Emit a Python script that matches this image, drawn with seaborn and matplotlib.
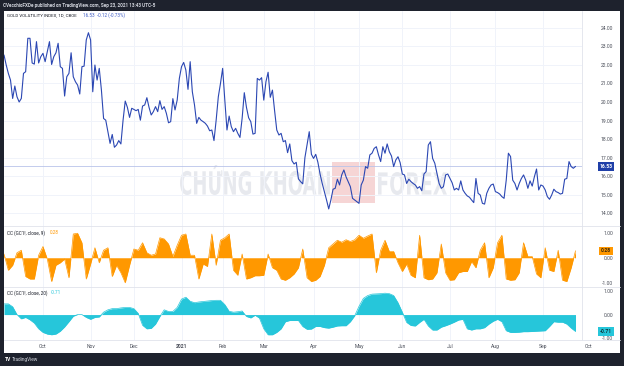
import numpy as np
import pandas as pd
import matplotlib
matplotlib.use("Agg")
import matplotlib.pyplot as plt
import seaborn as sns
from matplotlib.patches import Rectangle, PathPatch
from matplotlib.lines import Line2D
from matplotlib.textpath import TextPath
from matplotlib.font_manager import FontProperties
from matplotlib.transforms import Affine2D

# ---- data ----
gvz_close = [
    22.53, 22.00, 21.54, 21.18, 20.19, 20.86, 20.28, 20.00, 20.19, 21.54, 21.63,
    23.43, 23.43, 22.10, 22.04, 23.25, 22.10, 22.44, 22.62, 22.17, 22.71,
    23.25, 22.02, 22.44, 22.65, 23.16, 21.90, 21.81, 20.32, 21.36, 21.54,
    22.65, 21.36, 21.09, 20.91, 20.43, 21.90, 21.93, 23.34, 23.73, 23.34,
    20.55, 21.99, 21.18, 21.81, 20.64, 19.11, 19.02, 18.40, 17.77, 18.25, 17.56,
    17.68, 17.92, 17.74, 19.02, 20.05, 19.71, 19.17, 19.66, 19.60, 19.53,
    19.60, 19.02, 19.78, 19.84, 20.23, 19.71, 19.30, 19.48, 19.75, 19.48,
    20.07, 19.60, 19.75, 19.39, 18.88, 18.94, 20.18, 19.57, 20.10, 21.27,
    21.90, 22.13, 21.72, 20.68, 22.17, 20.55, 19.84, 18.85, 19.17, 19.02,
    18.94, 18.85, 18.70, 18.45, 18.49, 17.92, 19.02, 20.28, 21.00, 21.81, 20.10,
    18.49, 19.24, 18.67, 18.40, 18.58, 18.31, 18.09, 19.12, 20.50, 19.71,
    19.15, 18.94, 18.27, 18.31, 21.27, 21.18, 21.31, 20.10, 21.09, 21.60,
    20.25, 20.64, 19.53, 18.49, 18.22, 18.31, 17.86, 17.92, 17.27, 17.74,
    16.84, 16.66, 16.75, 15.86, 15.71, 15.59, 17.00, 17.70, 18.40, 17.18, 16.96,
    17.18, 16.75, 16.12,
    15.61, 15.17, 14.72, 14.24, 14.72, 15.30, 15.35, 15.84, 15.53, 16.07,
    16.34, 15.97, 15.71, 15.44, 14.81, 14.72, 14.63, 14.54, 15.53, 15.79,
    16.52, 16.43, 17.15, 17.24, 17.50, 17.59, 17.15, 16.79, 17.59, 17.24,
    17.74, 17.32, 17.09, 16.52, 16.88, 17.05, 16.73, 16.12, 16.07, 15.61,
    15.84, 15.71, 15.61, 15.53, 15.35, 15.44, 15.22, 16.12, 16.25, 17.68,
    17.86, 16.96, 16.70, 16.16, 15.61, 15.35, 15.44, 16.07, 16.12, 15.88,
    15.65, 15.26, 15.35, 15.26, 15.75, 15.26, 15.08, 14.94, 14.87, 14.72,
    14.58, 15.88, 15.08, 14.99, 14.54, 14.50, 15.08, 15.35, 15.53, 15.58,
    15.17, 15.12, 15.04, 14.90, 14.81, 15.79, 17.24, 17.06, 15.79, 15.61,
    15.26, 15.61, 15.88, 16.07, 15.79, 15.35, 15.75, 15.47, 15.97, 16.39,
    15.26, 15.53, 15.47, 15.26, 14.90, 14.76, 14.99, 15.30, 15.17, 15.12,
    15.04, 15.08, 15.84, 15.88, 16.79, 16.52, 16.43, 16.53,
]

# correlation coefficient vs gold futures, sampled every 2nd bar
cc9 = [
    0.15, -0.5, -0.3, 0.2, 0.3, -0.75, -0.85, -0.85, 0.1, 0.45,
    -0.05, -0.95, -0.3, -0.2, -0.05, -0.8, 0.95, 0.98, 0.6, -0.85,
    -0.25, 0.4, -0.2, 0.3, 0.4, -0.75, -0.3, -0.6, -1.0, -0.3,
    0.35, 0.3, 0.6, 0.2, 0.1, 0.15, 0.8, 0.75, 0.55, 0.05,
    0.5, 0.9, 0.95, 0.1, 0.1, -0.85, -0.25, -0.35, 0.95, -0.3,
    0.7, 0.8, 0.95, -0.5, -0.7, 0.15, -0.85, -0.8, -0.72, -0.72,
    -0.7, 0.15, -0.4, -0.5, -0.85, -0.9, -0.8, -0.65, -0.4, 0.35,
    -0.8, -0.95, -0.9, -0.75, -0.3, 0.4, 0.55, 0.7, 0.62, 0.72,
    0.65, 0.72, 0.9, 0.78, 0.87, 0.95, -0.6, 0.3, 0.7, 0.25,
    0.25, -0.2, -0.55, -0.25, -0.7, -0.8, 0.9, -0.8, -0.88, -0.85,
    -0.6, 0.55, -0.6, -0.9, -0.88, -0.6, -0.55, -0.55, -0.15, -0.4,
    0.3, 0.6, -0.8, -0.4, 0.6, 0.9, -0.85, -0.9, -0.88, -0.6,
    0.6, 0.05, 0.05, -0.65, -0.8, 0.4, -0.5, -0.55, 0.3, -0.9,
    -0.95, -0.4, 0.28,
]
cc20 = [
    0.45, 0.45, 0.33, 0.0, -0.18, -0.12, -0.22, -0.36, -0.6, -0.75,
    -0.82, -0.85, -0.82, -0.7, -0.52, -0.3, -0.07, 0.0, 0.0, -0.12,
    -0.2, -0.12, -0.1, 0.1, 0.2, 0.25, 0.25, 0.28, 0.3, 0.3,
    0.25, 0.05, -0.45, -0.6, -0.58, -0.4, -0.08, 0.2, 0.13, 0.13,
    0.3, 0.65, 0.73, 0.56, 0.5, 0.53, 0.55, 0.57, 0.59, 0.6,
    0.6, 0.42, 0.14, 0.1, 0.12, 0.15, -0.08, -0.14, -0.03, -0.15,
    -0.6, -0.85, -0.85, -0.75, -0.6, -0.3, -0.25, -0.25, -0.25, -0.5,
    -0.62, -0.61, -0.5, -0.5, -0.55, -0.57, -0.53, -0.48, -0.47, -0.47,
    -0.3, -0.05, 0.35, 0.68, 0.8, 0.86, 0.87, 0.88, 0.9, 0.88,
    0.8, 0.5, 0.1, -0.33, -0.46, -0.48, -0.33, -0.2, -0.48, -0.65,
    -0.65, -0.53, -0.47, -0.4, -0.32, -0.23, -0.2, -0.6, -0.65, -0.6,
    -0.6, -0.55, -0.4, -0.28, -0.2, -0.3, -0.68, -0.75, -0.75, -0.74,
    -0.72, -0.72, -0.71, -0.7, -0.69, -0.68, -0.5, -0.3, -0.32, -0.32,
    -0.4, -0.57, -0.71,
]

first_bar = "2020-09-04"
market_holidays = ["2020-09-07", "2020-11-26", "2020-12-25", "2021-01-01",
                   "2021-01-18", "2021-02-15", "2021-04-02", "2021-05-31",
                   "2021-07-05", "2021-09-06"]
main_ticks = [14, 15, 16, 17, 18, 19, 20, 21, 22, 23, 24]
cc_ticks = [-1, 0, 1]

# ---- bar index / dates ----
bday = pd.offsets.CustomBusinessDay(holidays=market_holidays)
dates = pd.date_range(first_bar, periods=len(gvz_close) + 8, freq=bday)
bars = np.arange(len(gvz_close))
cc_bars = np.arange(len(cc9)) * 2
month_start = [i for i in range(1, len(dates)) if dates[i].month != dates[i - 1].month]

# ---- style ----
sns.set_theme(style="white")
plt.rcParams["font.family"] = ["Roboto", "DejaVu Sans"]
DARK = "#1e222d"
GRID = "#f0f3fa"
SEP = "#e0e3eb"
TXT = "#4a4e59"
BLUE = "#2b47b3"
ORANGE = "#ff9800"
CYAN = "#26c6da"

W, H = 624, 366
fig = plt.figure(figsize=(W / 100, H / 100), dpi=100)
fig.patch.set_facecolor(DARK)
fx = lambda px: px / W
fy = lambda py: 1 - py / H

fig.add_artist(Rectangle((fx(4), fy(353)), 616 / W, 342 / H, transform=fig.transFigure,
                         facecolor="white", edgecolor="none", zorder=-3))

# watermark, behind the chart lines
def watermark(text, x0, x1, top, bottom):
    tp = TextPath((0, 0), text, size=10, prop=FontProperties(family="DejaVu Sans", weight="bold"))
    bb = tp.get_extents()
    sx = (x1 - x0) / bb.width
    sy = (bottom - top) / bb.height
    tr = Affine2D().translate(-bb.x0, -bb.y0).scale(sx, sy).translate(x0, H - bottom)
    fig.add_artist(PathPatch(tr.transform_path(tp), transform=None, facecolor="#e2e4ea",
                             edgecolor="none", alpha=0.8, zorder=-2))

watermark("CHỨNG KHOÁN", 180, 330, 165, 195)
watermark("FOREX", 378, 447, 172, 195)
fig.add_artist(Rectangle((fx(332), fy(203)), 43 / W, 41 / H, transform=fig.transFigure,
                         facecolor="#f3c4c4", edgecolor="none", alpha=0.7, zorder=-2))

ax1 = fig.add_axes([fx(4), fy(226), 578 / W, 215 / H])
ax2 = fig.add_axes([fx(4), fy(287), 578 / W, 61 / H])
ax3 = fig.add_axes([fx(4), fy(340), 578 / W, 53 / H])

xmax = 267
for ax in (ax1, ax2, ax3):
    ax.patch.set_alpha(0)
    ax.set_xlim(0, xmax)
    for s in ax.spines.values():
        s.set_visible(False)
    for m in month_start:
        if m < xmax:
            ax.axvline(m, color=GRID, lw=0.7, zorder=0)
    ax.set_xticks([])
    ax.yaxis.tick_right()
    ax.tick_params(axis="y", length=0, pad=22.5, labelsize=3.6, labelcolor=TXT)

# main panel
ax1.set_ylim(13.32, 24.9)
for v in main_ticks:
    ax1.axhline(v, color=GRID, lw=0.7, zorder=0)
ax1.axhline(gvz_close[-1], color="#b9c4ea", lw=0.6, zorder=1)
sns.lineplot(x=bars, y=gvz_close, ax=ax1, color=BLUE, linewidth=0.8, zorder=3)
ax1.set_yticks(main_ticks)
ax1.set_yticklabels([f"{v:.2f}" for v in main_ticks])

# correlation panels
for ax, vals, col, lims in ((ax2, cc9, ORANGE, (-1.17, 1.27)), (ax3, cc20, CYAN, (-1.07, 1.16))):
    ax.set_ylim(*lims)
    ax.fill_between(cc_bars, vals, 0, color=col, lw=0, zorder=2)
    sns.lineplot(x=cc_bars, y=vals, ax=ax, color=col, linewidth=0.5, zorder=3)
    ax.set_yticks(cc_ticks)
    ax.set_yticklabels([f"{v:.2f}" for v in cc_ticks])

for ax in (ax1, ax2, ax3):
    for t in ax.get_yticklabels():
        t.set_horizontalalignment("right")
    ax.set_xlabel("")
    ax.set_ylabel("")

# last value tags on price scale
def tag(ax, val, txt, fc, tc):
    ax.text(1.0415, val, txt, transform=ax.get_yaxis_transform(), ha="center", va="center",
            fontsize=3.6, color=tc, fontweight="bold", clip_on=False, zorder=6,
            bbox=dict(boxstyle="square,pad=0.35", fc=fc, ec="none"))

tag(ax1, gvz_close[-1], f"{gvz_close[-1]:.2f}", "#1f3fa8", "white")
tag(ax2, cc9[-1], f"{cc9[-1]:.2f}", ORANGE, "#3a2a10")
tag(ax3, cc20[-1], f"{cc20[-1]:.2f}", CYAN, "#10343a")

# time axis labels
for m in month_start:
    d = dates[m]
    lab = str(d.year) if d.month == 1 else d.strftime("%b")
    ax3.text(m, -0.115, lab, transform=ax3.get_xaxis_transform(), ha="center", va="center",
             fontsize=3.6, color=TXT, fontweight="bold" if d.month == 1 else "normal",
             clip_on=False)

# separators
for yy in (226, 287, 340):
    fig.add_artist(Line2D([fx(4), fx(620)], [fy(yy), fy(yy)], transform=fig.transFigure,
                          color=SEP, lw=0.6))
fig.add_artist(Line2D([fx(582), fx(582)], [fy(11), fy(340)], transform=fig.transFigure,
                      color=SEP, lw=0.6))

# legends
fig.text(fx(7), fy(15.5), "GOLD VOLATILITY INDEX, 1D, CBOE", fontsize=3.2, color="#131722", va="center")
fig.text(fx(83), fy(15.5), f"{gvz_close[-1]:.2f}  -0.12 (-0.73%)", fontsize=3.3, color="#3d5bc4", va="center")
fig.text(fx(7), fy(232.7), "CC (GC1!, close, 9)", fontsize=3.3, color="#131722", va="center")
fig.text(fx(50), fy(232.7), f"{cc9[-1]:.2f}", fontsize=3.3, color=ORANGE, va="center")
fig.text(fx(7), fy(293), "CC (GC1!, close, 20)", fontsize=3.3, color="#131722", va="center")
fig.text(fx(51), fy(293), f"{cc20[-1]:.2f}", fontsize=3.3, color=CYAN, va="center")

# header / footer
fig.text(fx(3), fy(5.5), "CVecchioFXDe published on TradingView.com, Sep 23, 2021 13:43 UTC-5",
         fontsize=3.3, color="#d1d4dc", fontweight="bold", va="center")
fig.text(fx(5), fy(359.5), "TV", fontsize=3.6, color="white", fontweight="bold", va="center")
fig.text(fx(12), fy(359.5), "TradingView", fontsize=3.4, color="#d1d4dc", va="center")

fig.savefig("out.png", dpi=100, facecolor=fig.get_facecolor())
